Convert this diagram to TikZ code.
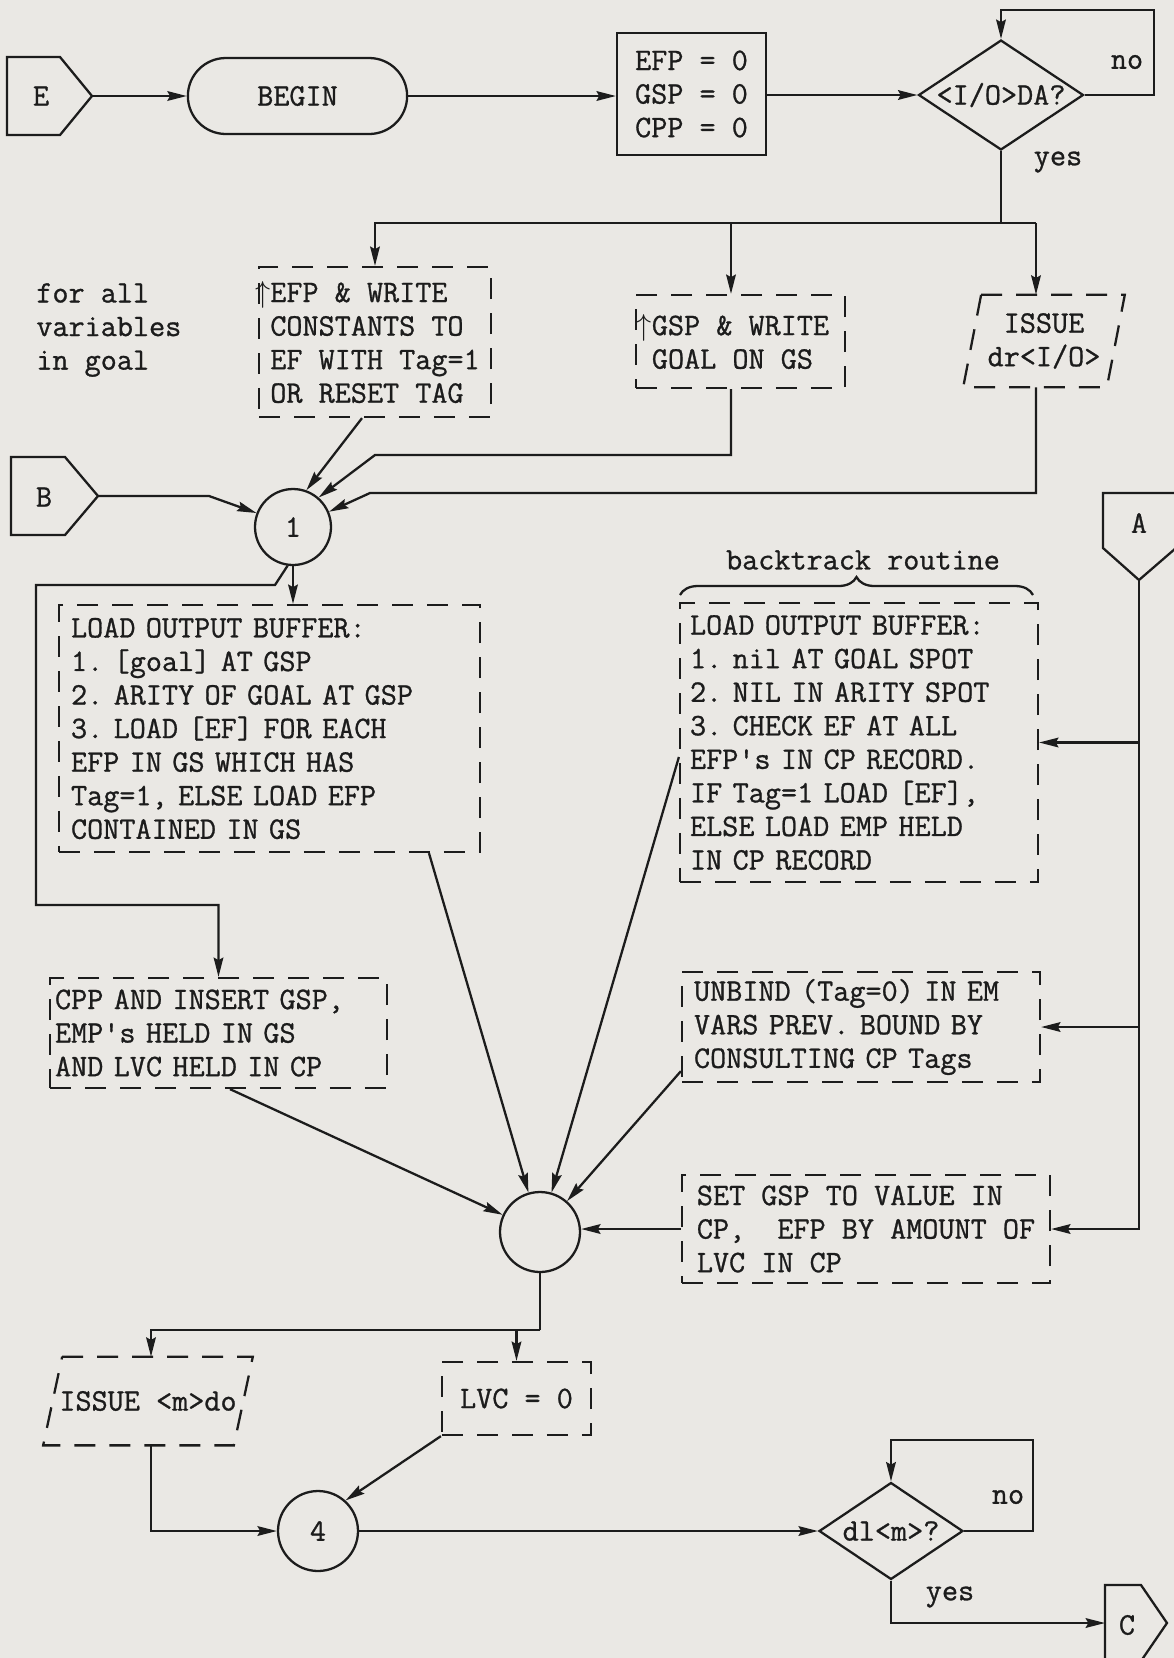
\documentclass[tikz,border=0pt]{standalone}
\usepackage{fontspec}
\newfontfamily\twfont{Latin Modern Mono}[FakeBold=0.9]
\usetikzlibrary{arrows.meta,shapes.geometric,shapes.misc,decorations.pathreplacing}
\definecolor{paper}{RGB}{234,232,228}
\definecolor{ink}{RGB}{28,28,28}
\frenchspacing
\begin{document}
\begin{tikzpicture}[x=0.02cm,y=-0.02cm,
  every node/.style={font=\fontsize{17.8}{19.1}\selectfont\twfont\frenchspacing, text=ink},
  ln/.style={draw=ink, line width=1.3pt},
  arr/.style={ln, -{Stealth[length=11pt,width=5.5pt,inset=1.5pt]}},
  dsh/.style={draw=ink, line width=1.3pt, dash pattern=on 0.42cm off 0.28cm},
  dbox/.style={dsh, rectangle, inner ysep=0pt, align=left},
  sbox/.style={draw=ink, line width=1.3pt, rectangle, align=left, inner ysep=0pt},
  circ/.style={draw=ink, line width=1.3pt, circle, inner sep=0pt},
  dia/.style={draw=ink, line width=1.3pt, diamond, inner sep=0pt},
  para/.style={rectangle, inner sep=0pt, align=center},
  lbl/.style={inner sep=0pt}
]
\fill[paper] (0,0) rectangle (1174,1658);
\useasboundingbox (0,0) rectangle (1174,1658);

% ---- row 1
\node[lbl] (E) at (41,96) {E};
\draw[ln] (7,57) -- (60,57) -- (92,96) -- (60,135) -- (7,135) -- cycle;
\coordinate (Etip) at (92,96);
\node[draw=ink, line width=1.3pt, rounded rectangle, minimum width=4.62cm, minimum height=1.52cm] (begin) at (297.5,96) {BEGIN};
\node[sbox, minimum width=2.98cm, minimum height=2.44cm] (init) at (691.5,94) {EFP = 0\\GSP = 0\\CPP = 0};
\node[dia, minimum width=3.3cm, minimum height=2.2cm] (d1) at (1001,95) {\makebox[0pt]{<I/O>DA?}};
\node[lbl] (no1) at (1127,62) {no};
\node[lbl] (yes1) at (1058,162) {yes};

\draw[arr] (Etip) -- (begin.west);
\draw[arr] (begin.east) -- (begin.east -| init.west);
\draw[arr] (d1.west -| init.east) -- (d1.west);
\coordinate (nl1) at (1154,10);
\draw[arr] (d1.east) -| (nl1) -| (d1.north);

% ---- row 2
\node[lbl, anchor=west, align=left] (note) at (36,330) {for all\\variables\\in goal};
\node[dbox, minimum width=4.64cm, minimum height=3.0cm, inner xsep=0pt] (efpw) at (375,342) {\llap{$\uparrow$}EFP \& WRITE\\CONSTANTS TO\\EF WITH Tag=1\\OR RESET TAG};
\node[dbox, minimum width=4.18cm, minimum height=1.86cm, inner xsep=0pt] (gsp) at (740.5,341.5) {\llap{$\uparrow$}GSP \& WRITE\\GOAL ON GS};
\node[para, minimum width=2.86cm, minimum height=1.84cm] (iss1) at (1044,341) {ISSUE\\dr<I/O>};
\draw[dsh] ([xshift=0.18cm]iss1.north west) -- ([xshift=0.18cm]iss1.north east) -- ([xshift=-0.18cm]iss1.south east) -- ([xshift=-0.18cm]iss1.south west) -- cycle;

\coordinate (br) at (1036,223);
\coordinate (brg) at (731,223);
\draw[ln] (d1.south) -- (d1.south |- br);
\draw[arr] (br) -| (efpw.north);
\draw[arr] (br) -- (br |- iss1.north);
\draw[arr] (brg) -- (brg |- gsp.north);

% ---- connector B and circle 1
\node[lbl] (B) at (44,497) {B};
\draw[ln] (11,457) -- (65,457) -- (98,496) -- (65,535) -- (11,535) -- cycle;
\coordinate (Btip) at (98,496);
\node[circ, minimum size=1.52cm] (c1) at (293,527) {1};

\draw[arr] ([xshift=-0.26cm]efpw.south) -- (c1.70);
\coordinate (g1) at (731,455);
\coordinate (g2) at (375,455);
\draw[arr] (gsp.south -| g1) -- (g1) -- (g2) -- (c1.49);
\coordinate (i1) at (1036,493);
\coordinate (i2) at (370,493);
\draw[arr] (iss1.south -| i1) -- (i1) -- (i2) -- (c1.23);
\coordinate (b2) at (209,496);
\draw[arr] (Btip) -- (b2) -- (c1.159);

% ---- connector A
\node[lbl] (A) at (1139,523) {A};
\draw[ln] (1103,493) -- (1176,493) -- (1176,548) -- (1139,580) -- (1103,548) -- cycle;
\coordinate (Atip) at (1139,580);

% ---- load boxes
\node[dbox, text width=7.94cm, inner xsep=0.24cm, minimum height=4.94cm] (load) at (269.5,728.5) {LOAD OUTPUT BUFFER:\\1. [goal] AT GSP\\2. ARITY OF GOAL AT GSP\\3. LOAD [EF] FOR EACH\\EFP IN GS WHICH HAS\\Tag=1, ELSE LOAD EFP\\CONTAINED IN GS};
\node[lbl] (bttitle) at (863,560) {backtrack routine};
\draw[ln, decorate, decoration={brace, amplitude=0.36cm}] (680,595) -- (1033,595);
\node[dbox, text width=6.76cm, inner xsep=0.2cm, minimum height=5.58cm] (bt) at (859,742.5) {LOAD OUTPUT BUFFER:\\1. nil AT GOAL SPOT\\2. NIL IN ARITY SPOT\\3. CHECK EF AT ALL\\EFP's IN CP RECORD.\\IF Tag=1 LOAD [EF],\\ELSE LOAD EMP HELD\\IN CP RECORD};

\draw[arr] (c1.south) -- (c1.south |- load.north);
\coordinate (k1) at (275,585);
\coordinate (k2) at (36,585);
\coordinate (k3) at (36,905);

% ---- middle boxes
\node[dbox, text width=6.54cm, inner xsep=0.1cm, minimum height=2.2cm] (cpp) at (218.5,1033) {CPP AND INSERT GSP,\\EMP's HELD IN GS\\AND LVC HELD IN CP};
\node[dbox, text width=6.68cm, inner xsep=0.24cm, minimum height=2.2cm] (unb) at (861,1027) {UNBIND (Tag=0) IN EM\\VARS PREV. BOUND BY\\CONSULTING CP Tags};
\node[dbox, minimum width=7.36cm, minimum height=2.16cm, inner xsep=0pt] (set) at (866,1229) {SET GSP TO VALUE IN\\CP,\ \ EFP BY AMOUNT OF\\LVC IN CP};
\node[circ, minimum size=1.6cm] (M) at (540,1232) {};

\draw[arr] (c1.262) -- (k1) -- (k2) -- (k3) -| (cpp.north);
\draw[arr] ([xshift=3.19cm]load.south) -- (M);
\draw[arr] ([yshift=-0.29cm]bt.west) -- (M);
\draw[arr] ([yshift=0.24cm]unb.south west) -- (M);
\draw[arr] (set.west) -- (set.west -| M.east);
\draw[arr] ([xshift=0.23cm]cpp.south) -- (M);

\draw[arr] (Atip) |- (set.east);
\draw[arr] (Atip |- bt.east) -- (bt.east);
\draw[arr] (Atip |- unb.east) -- (unb.east);

% ---- bottom
\node[para, minimum width=3.8cm, minimum height=1.76cm] (iss2) at (148,1401) {ISSUE <m>do};
\draw[dsh] ([xshift=0.19cm]iss2.north west) -- ([xshift=0.19cm]iss2.north east) -- ([xshift=-0.19cm]iss2.south east) -- ([xshift=-0.19cm]iss2.south west) -- cycle;
\node[dbox, minimum width=2.98cm, minimum height=1.46cm] (lvc) at (516.5,1398.5) {LVC = 0};
\node[circ, minimum size=1.6cm] (c4) at (318,1531) {4};
\node[dia, minimum width=2.88cm, minimum height=1.94cm] (d2) at (891,1531) {\makebox[0pt]{dl<m>?}};
\node[lbl] (no2) at (1008,1497) {no};
\node[lbl] (yes2) at (950,1597) {yes};
\node[lbl] (C) at (1127,1625) {C};
\draw[ln] (1105,1585) -- (1141,1585) -- (1167,1623) -- (1141,1661) -- (1105,1661) -- cycle;
\coordinate (Cw) at (1105,1623);

\coordinate (m1) at (540,1330);
\coordinate (m2) at (151,1330);
\draw[ln] (M.south) -- (m1);
\draw[arr] (m1) -- (m2) -- (m2 |- iss2.north);
\draw[arr] (lvc.north |- m1) -- (lvc.north);
\draw[arr] (iss2.south -| m2) |- (c4.west);
\draw[arr] (lvc.south west) -- (c4.48);
\draw[arr] (c4.east) -- (d2.west);
\coordinate (nl2) at (1033,1440);
\draw[arr] (d2.east) -| (nl2) -| (d2.north);
\draw[arr] (d2.south) |- (Cw);
\end{tikzpicture}
\end{document}
